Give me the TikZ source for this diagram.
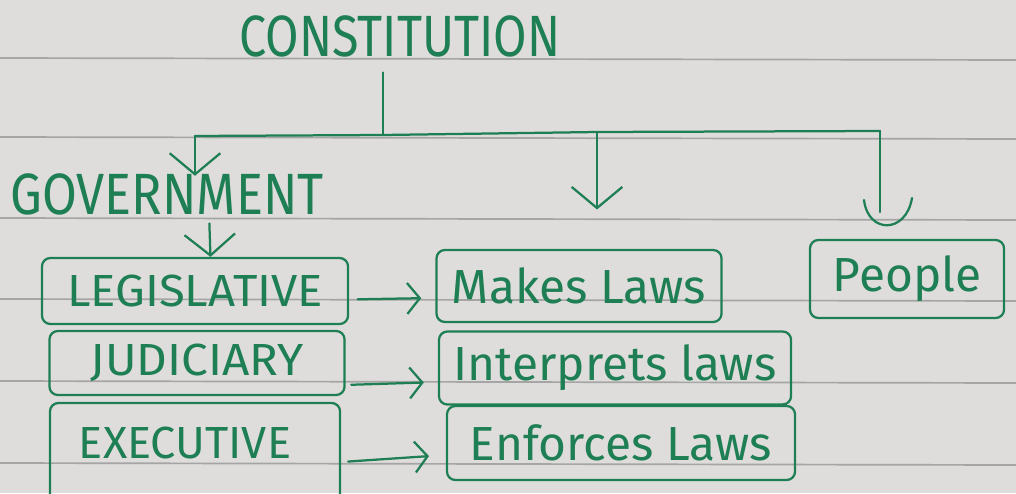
\documentclass[tikz,border=0pt]{standalone}
\usepackage{fontspec}
\setmainfont{Fira Sans}
\usetikzlibrary{arrows.meta}
\definecolor{ink}{HTML}{1E7E54}
\definecolor{paper}{HTML}{DEDDDB}
\definecolor{ruling}{HTML}{A5A5A5}
\begin{document}
\begin{tikzpicture}[x=0.025cm,y=-0.025cm,
  box/.style={draw=ink, line width=1.6pt, rounded corners=6pt, inner sep=0pt, text=ink},
  lbl/.style={text=ink, inner sep=2pt},
  link/.style={draw=ink, line width=1.6pt, line cap=round},
  arr/.style={draw=ink, line width=1.6pt, line cap=round, -{Straight Barb[length=9pt,width=22pt,line width=1.6pt]}},
  bigarr/.style={draw=ink, line width=1.6pt, line cap=round, -{Straight Barb[length=15pt,width=36pt,line width=1.6pt]}},
  fA/.style={font=\fontsize{34.5}{38}\selectfont},
  fB/.style={font=\fontsize{32}{36}\selectfont},
  fC/.style={font=\fontsize{34}{38}\selectfont}]
\fill[paper] (0,0) rectangle (1016,493);
\useasboundingbox (0,0) rectangle (1016,493);
\foreach \yy in {58,137,218,299,381,463} \draw[ruling, line width=1.2pt] (0,\yy) -- (1016,\yy+2);

% titles
\node[lbl, fA] (const) at (400,36) {\scalebox{1}[1.2]{CONSTITUTION}};
\node[lbl, fA] (gov) at (167,194) {\scalebox{1.04}[1.2]{GOVERNMENT}};

% left column
\node[box, fB, minimum width=7.65cm, minimum height=1.65cm] (leg) at (195,291) {\scalebox{1.05}[1]{LEGISLATIVE}};
\node[box, fB, minimum width=7.375cm, minimum height=1.6cm] (jud) at (197,363) {\scalebox{1.06}[1]{JUDICIARY}};
\node[box, minimum width=7.25cm, minimum height=2.55cm] (exe) at (195,454) {};
\node[lbl, fB] (exet) at (185,443) {EXECUTIVE};

% middle column
\node[box, fC, minimum width=7.125cm, minimum height=1.8cm] (make) at (579,286) {Makes Laws};
\node[box, fC, minimum width=8.8cm, minimum height=1.825cm] (interp) at (615,368) {Interprets laws};
\node[box, fC, minimum width=8.7cm, minimum height=1.85cm] (enf) at (621,443) {Enforces Laws};

% right
\node[box, fC, minimum width=4.85cm, minimum height=1.95cm] (people) at (907,279) {People};

% tree
\coordinate (j) at (383,135);
\coordinate (hl) at (195,136);
\coordinate (hm) at (597,132);
\coordinate (hr) at (880,131);
\draw[link, shorten <=9pt] (const.south -| j) -- (j);
\draw[link] (hl) -- (j) -- (hm) -- (hr);
\draw[bigarr, shorten >=-4pt] (hl) -- (hl |- gov.north);
\draw[bigarr, shorten >=28pt] (hm) -- (hm |- make.north);
\draw[link, shorten >=19pt] (hr) -- (hr |- people.north);
\draw[link] (864,200) .. controls (868,234) and (906,234) .. (912,198);
\draw[bigarr, shorten <=4pt] ([xshift=30pt]gov.south) -- ([xshift=11pt]leg.north);

% horizontal arrows
\draw[arr, shorten <=6pt, shorten >=10pt] ([yshift=-6pt]leg.east) -- ([yshift=-8.5pt]make.west);
\draw[arr, shorten <=4pt, shorten >=10pt] ([yshift=-15.6pt]jud.east) -- ([yshift=-10pt]interp.west);
\draw[arr, shorten <=5pt, shorten >=12pt] ([yshift=-5.7pt]exe.east) -- ([yshift=-8.5pt]enf.west);
\end{tikzpicture}
\end{document}
